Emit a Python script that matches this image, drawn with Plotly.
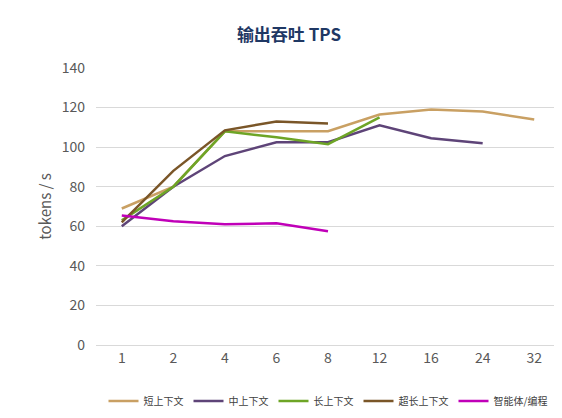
import plotly.graph_objects as go

categories = ["1", "2", "4", "6", "8", "12", "16", "24", "32"]
short_ctx = [69, 80, 108, 108, 108, 116.5, 119, 118, 114]
mid_ctx = [60, 80, 95.5, 102.5, 102.5, 111, 104.5, 102]
long_ctx = [63, 80, 108, 105, 101.5, 115]
xlong_ctx = [62, 88, 108.5, 113, 112]
agent = [65.5, 62.5, 61, 61.5, 57.5]

series = [
    ("短上下文", short_ctx, "#C9A063"),
    ("中上下文", mid_ctx, "#5E4478"),
    ("长上下文", long_ctx, "#6EA526"),
    ("超长上下文", xlong_ctx, "#7A5628"),
    ("智能体/编程", agent, "#C000B8"),
]

fig = go.Figure()
for name, vals, color in series:
    fig.add_trace(go.Scatter(x=categories[:len(vals)], y=vals, name=name, mode="lines",
                             line=dict(color=color, width=2.5)))

fig.update_layout(
    width=562, height=418,
    margin=dict(l=88, r=10, t=60, b=72),
    plot_bgcolor="white", paper_bgcolor="white",
    font=dict(family="Noto Sans CJK SC", color="#595959"),
    title=dict(text="<b>输出吞吐 TPS</b>", x=0.5, xanchor="center", y=0.95,
               font=dict(size=17, color="#1F3864")),
    xaxis=dict(type="category", categoryorder="array", categoryarray=categories,
               range=[-0.5, 8.5],
               showgrid=False, showline=True, linecolor="#D9D9D9", ticks="",
               tickfont=dict(size=14, color="#595959")),
    yaxis=dict(range=[0, 140], dtick=20, showgrid=True, gridcolor="#D9D9D9",
               zeroline=False, tickfont=dict(size=14, color="#595959"),
               ticklabelstandoff=10,
               title=dict(text="tokens / s", standoff=6, font=dict(size=15, color="#595959"))),
    legend=dict(orientation="h", x=0.5, xanchor="center", y=-0.15, yanchor="top",
                font=dict(size=10, color="#404040")),
)
fig.write_html("out.html")
